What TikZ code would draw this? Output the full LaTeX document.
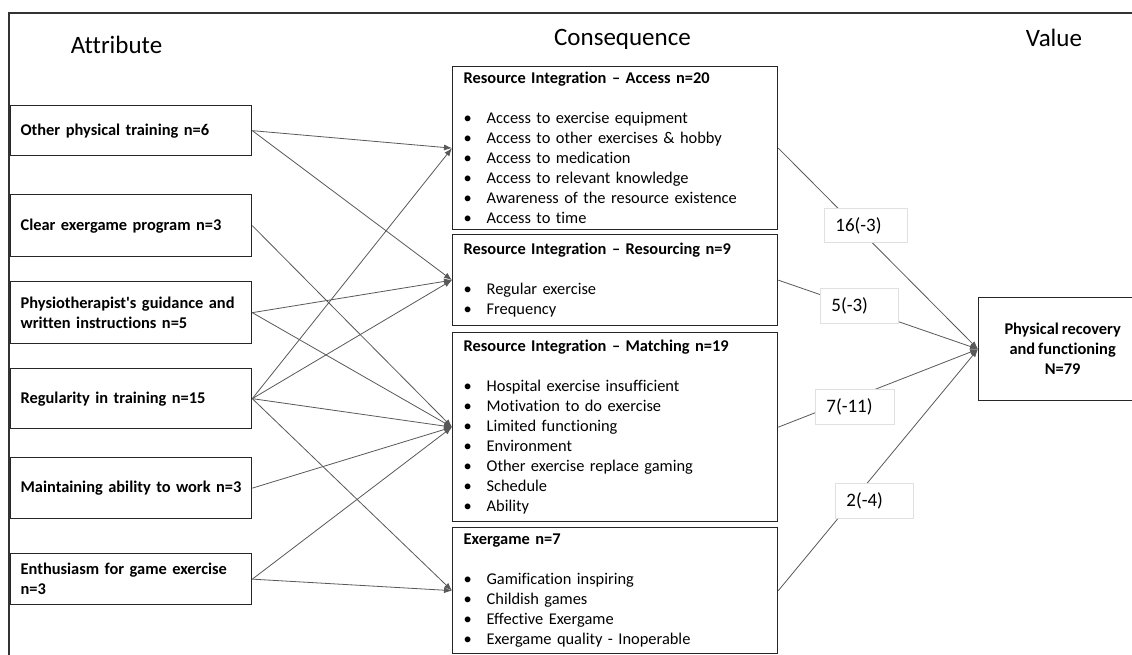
\documentclass[tikz,border=0pt]{standalone}
\usepackage{fontspec}
\setmainfont{Carlito}[Ligatures={NoCommon}, WordSpace={0.8}]
\usetikzlibrary{arrows.meta}
\newcommand{\bulletitem}{\makebox[23pt][l]{•}}
\begin{document}
\begin{tikzpicture}[x=1pt,y=-1pt,
  boxline/.style={draw=black!85, line width=1.3pt},
  attr/.style={boxline, anchor=north west, text width=221pt, inner xsep=10pt,
    inner ysep=0pt, align=left, font=\fontsize{16.4}{20}\selectfont\bfseries},
  cons/.style={boxline, anchor=north west, text width=303pt, inner xsep=11pt,
    inner ysep=0pt, align=left, font=\fontsize{16.4}{20}\selectfont},
  valbox/.style={boxline, anchor=north west, minimum width=168pt, inner sep=0pt,
    align=center, font=\fontsize{16.4}{20}\selectfont\bfseries},
  heading/.style={anchor=base, font=\fontsize{25}{30}\selectfont},
  conn/.style={draw=black!65, line width=0.8pt, -{Latex[length=8pt,width=6pt]}},
  lbl/.style={draw=black!12, fill=white, line width=0.8pt, anchor=north west,
    inner xsep=11pt, inner ysep=0pt, align=left, font=\fontsize{19}{22}\selectfont}
]
% canvas and frame
\clip (0,0) rectangle (1132,655);
\fill[white] (0,0) rectangle (1132,655);
\draw[line width=1.3pt, black!80] (9,700) -- (9,13) -- (1200,13);

% column headings
\node[heading] (hA) at (116.5,54) {Attribute};
\node[heading] (hC) at (622.5,46) {Consequence};
\node[heading] (hV) at (1054,47) {Value};

% attributes
\node[attr, minimum height=50pt] (a1) at (10,105) {Other physical training n=6};
\node[attr, minimum height=62pt] (a2) at (10,194) {Clear exergame program n=3};
\node[attr, minimum height=62pt] (a3) at (10,281) {Physiotherapist\textquotesingle s guidance and\\written instructions n=5};
\node[attr, minimum height=60pt] (a4) at (10,368) {Regularity in training n=15};
\node[attr, minimum height=61pt] (a5) at (10,457) {\mbox{Maintaining ability to work n=3}};
\node[attr, minimum height=51pt] (a6) at (10,553) {Enthusiasm for game exercise\\n=3};

% consequences
\node[cons, minimum height=163pt] (c1) at (452,66) {%
  \textbf{Resource Integration – Access n=20}\\[20pt]
  \bulletitem Access to exercise equipment\\
  \bulletitem Access to other exercises \& hobby\\
  \bulletitem Access to medication\\
  \bulletitem Access to relevant knowledge\\
  \bulletitem Awareness of the resource existence\\
  \bulletitem Access to time};
\node[cons, minimum height=91pt] (c2) at (452,234) {%
  \textbf{Resource Integration – Resourcing n=9}\\[20pt]
  \bulletitem Regular exercise\\
  \bulletitem Frequency};
\node[cons, minimum height=189pt] (c3) at (452,332) {%
  \textbf{Resource Integration – Matching n=19}\\[20pt]
  \bulletitem Hospital exercise insufficient\\
  \bulletitem Motivation to do exercise\\
  \bulletitem Limited functioning\\
  \bulletitem Environment\\
  \bulletitem Other exercise replace gaming\\
  \bulletitem Schedule\\
  \bulletitem Ability};
\node[cons, minimum height=126pt] (c4) at (452,527) {%
  \textbf{Exergame n=7}\\[20pt]
  \bulletitem Gamification inspiring\\
  \bulletitem Childish games\\
  \bulletitem Effective Exergame\\
  \bulletitem Exergame quality - Inoperable};

% value
\node[valbox, minimum height=103pt] (v) at (978,297) {Physical recovery\\and functioning\\N=79};

% attribute -> consequence links
\draw[conn] (a1.east) -- (c1.west);
\draw[conn] (a1.east) -- (c2.west);
\draw[conn] (a2.east) -- (c3.west);
\draw[conn] (a3.east) -- (c2.west);
\draw[conn] (a3.east) -- (c3.west);
\draw[conn] (a4.east) -- (c1.west);
\draw[conn] (a4.east) -- (c2.west);
\draw[conn] (a4.east) -- (c3.west);
\draw[conn] (a4.east) -- (c4.west);
\draw[conn] (a5.east) -- (c3.west);
\draw[conn] (a6.east) -- (c3.west);
\draw[conn] (a6.east) -- (c4.west);

% consequence -> value links
\draw[conn] (c1.east) -- (v.west);
\draw[conn] (c2.east) -- (v.west);
\draw[conn] (c3.east) -- (v.west);
\draw[conn] (c4.east) -- (v.west);

% counts on the value links
\node[lbl, text width=61pt, minimum height=34pt] (l1) at (824,208) {16(-3)};
\node[lbl, text width=56pt, minimum height=35pt] (l2) at (820,288) {5(-3)};
\node[lbl, text width=57pt, minimum height=35pt] (l3) at (815,389) {7(-11)};
\node[lbl, text width=56pt, minimum height=35pt] (l4) at (835,483) {2(-4)};
\end{tikzpicture}
\end{document}
